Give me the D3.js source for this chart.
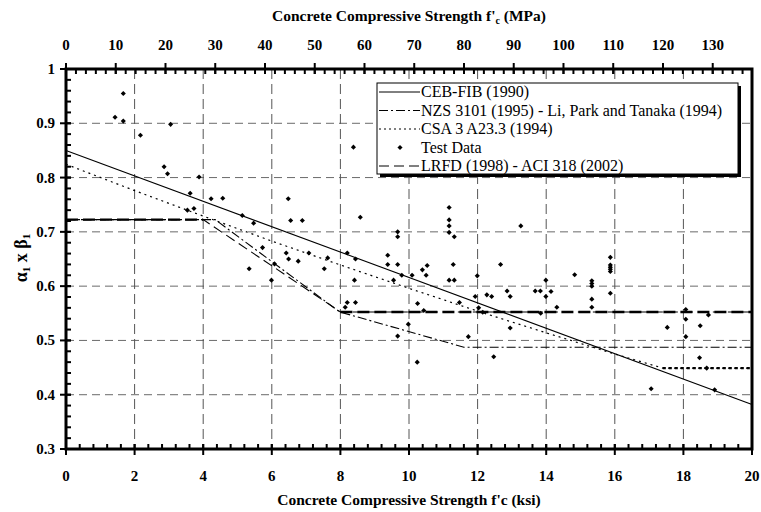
<!DOCTYPE html>
<html><head><meta charset="utf-8">
<script src="https://cdn.jsdelivr.net/npm/d3@7"></script>
<style>body{margin:0;background:#fff}svg{display:block}</style>
</head><body><svg id="c" width="761" height="512"></svg>
<script>
// ---- data ----
const xTicksKsi = [0,2,4,6,8,10,12,14,16,18,20];
const xTicksMPa = [0,10,20,30,40,50,60,70,80,90,100,110,120,130];
const yTicks = [0.3,0.4,0.5,0.6,0.7,0.8,0.9,1];
const yTickLabels = ["0.3","0.4","0.5","0.6","0.7","0.8","0.9","1"];

const cebX = [0, 20];
const cebY = [0.85, 0.382];
const nzsX = [0, 4.35, 7.98, 11.6, 20];
const nzsY = [0.7225, 0.7225, 0.5525, 0.4875, 0.4875];
const csaX = [0, 2, 4, 6, 8, 10, 12, 14, 16, 17.4, 20];
const csaY = [0.8245, 0.776, 0.729, 0.683, 0.639, 0.596, 0.554, 0.514, 0.475, 0.449, 0.449];
const lrfdX = [0, 4, 8, 20];
const lrfdY = [0.7225, 0.7225, 0.5525, 0.5525];

const testX = [1.67,1.43,1.67,3.05,2.17,2.86,2.96,3.88,3.62,4.23,4.57,3.54,3.73,5.14,5.47,
  6.48,6.55,6.89,8.58,5.73,5.34,6.42,6.49,6.77,7.08,7.63,7.53,6.08,5.99,8.20,8.44,8.41,8.20,8.44,8.14,
  8.38,9.67,9.67,9.38,9.38,9.67,9.55,9.79,10.09,10.25,10.43,9.98,9.67,10.24,10.39,10.53,10.50,
  11.17,11.17,11.17,11.17,11.32,11.29,11.17,11.32,11.47,11.73,11.99,11.93,12.03,12.15,12.27,12.41,12.47,
  12.67,12.95,12.86,12.95,13.26,13.68,13.83,13.84,13.99,13.99,14.14,14.31,14.83,15.33,15.33,15.33,15.33,15.33,
  15.87,15.87,15.87,15.87,15.87,15.87,18.07,18.07,18.07,18.73,18.49,17.53,18.47,18.68,17.06,18.91];
const testY = [0.955,0.911,0.904,0.898,0.878,0.820,0.807,0.801,0.771,0.761,0.762,0.740,0.743,0.730,0.716,
  0.761,0.721,0.721,0.727,0.671,0.632,0.661,0.650,0.646,0.661,0.652,0.632,0.641,0.611,0.661,0.650,0.611,0.570,0.570,0.561,
  0.856,0.700,0.691,0.657,0.640,0.640,0.611,0.620,0.620,0.568,0.555,0.530,0.508,0.460,0.630,0.638,0.620,
  0.745,0.722,0.711,0.699,0.691,0.640,0.611,0.611,0.570,0.507,0.619,0.581,0.560,0.552,0.584,0.581,0.470,
  0.640,0.523,0.591,0.581,0.711,0.591,0.591,0.550,0.611,0.581,0.590,0.561,0.621,0.610,0.605,0.600,0.576,0.561,
  0.653,0.639,0.635,0.631,0.627,0.587,0.557,0.539,0.507,0.547,0.527,0.524,0.468,0.449,0.411,0.409];

const legendLabels = ["CEB-FIB (1990)","NZS 3101 (1995) - Li, Park and Tanaka (1994)","CSA 3 A23.3 (1994)","Test Data","LRFD (1998) - ACI 318 (2002)"];

// ---- chart ----
const svg = d3.select("#c").style("font-family", '"Liberation Serif"');
const L = 66, R = 752, T = 69, B = 449;
const x = d3.scaleLinear().domain([0, 20]).range([L, R]);
const xM = d3.scaleLinear().domain([0, 20 * 6.894757]).range([L, R]);
const y = d3.scaleLinear().domain([0.3, 1]).range([B, T]);

// gridlines
const g = svg.append("g");
g.selectAll(".hg").data(yTicks.slice(1, -1)).join("line")
  .attr("x1", L).attr("x2", R).attr("y1", d => y(d)).attr("y2", d => y(d))
  .attr("stroke", "#6a6a6a").attr("stroke-width", 1).attr("stroke-dasharray", "8,5");
g.selectAll(".vg").data(xTicksKsi.slice(1, -1)).join("line")
  .attr("y1", T).attr("y2", B).attr("x1", d => x(d)).attr("x2", d => x(d))
  .attr("stroke", "#555").attr("stroke-width", 1).attr("stroke-dasharray", "10,5");

// series lines
const lineGen = d3.line().x(d => x(d[0])).y(d => y(d[1]));
const zip = (a, b) => a.map((v, i) => [v, b[i]]);
svg.append("path").attr("d", lineGen(zip(cebX, cebY))).attr("fill", "none").attr("stroke", "#000").attr("stroke-width", 1.1);
svg.append("path").attr("d", lineGen(zip(csaX, csaY))).attr("fill", "none").attr("stroke", "#000").attr("stroke-width", 1.2).attr("stroke-dasharray", "2,4");
svg.append("path").attr("d", lineGen(zip(nzsX, nzsY))).attr("fill", "none").attr("stroke", "#000").attr("stroke-width", 1.1).attr("stroke-dasharray", "9,3,2,3");
svg.append("path").attr("d", lineGen(zip(lrfdX, lrfdY))).attr("fill", "none").attr("stroke", "#000").attr("stroke-width", 1.1).attr("stroke-dasharray", "10,5");
const thick = (xs, ys, i, dash) => svg.append("path").attr("d", lineGen([[xs[i], ys[i]], [xs[i + 1], ys[i + 1]]]))
  .attr("fill", "none").attr("stroke", "#000").attr("stroke-width", 2.4).attr("stroke-dasharray", dash);
thick(lrfdX, lrfdY, 0, "12,5");
thick(lrfdX, lrfdY, 2, "12,5");
thick(csaX, csaY, 9, "3,3");

// test data (small square diamonds)
const marker = d3.symbol().type(d3.symbolSquare).size(13);
svg.append("g").selectAll("path").data(zip(testX, testY)).join("path")
  .attr("d", marker).attr("transform", d => `translate(${x(d[0])},${y(d[1])}) rotate(45)`).attr("fill", "#000");

// axes frame
svg.append("rect").attr("x", L).attr("y", T).attr("width", R - L).attr("height", B - T)
  .attr("fill", "none").attr("stroke", "#000").attr("stroke-width", 3);

// ticks
const ax = svg.append("g").attr("stroke", "#000").attr("stroke-width", 2);
const minorX = d3.range(0, 20.001, 0.4);
ax.selectAll(".mxb").data(minorX).join("line").attr("x1", d => x(d)).attr("x2", d => x(d)).attr("y1", B).attr("y2", B - 5);
ax.selectAll(".Mxb").data(xTicksKsi).join("line").attr("x1", d => x(d)).attr("x2", d => x(d)).attr("y1", B - 5).attr("y2", B + 6);
const minorM = d3.range(0, 137.9, 2);
ax.selectAll(".mxt").data(minorM).join("line").attr("x1", d => xM(d)).attr("x2", d => xM(d)).attr("y1", T).attr("y2", T + 5);
ax.selectAll(".Mxt").data(xTicksMPa).join("line").attr("x1", d => xM(d)).attr("x2", d => xM(d)).attr("y1", T - 6).attr("y2", T + 5);
const minorY = d3.range(0.3, 1.0001, 0.02);
ax.selectAll(".my").data(minorY).join("line").attr("y1", d => y(d)).attr("y2", d => y(d)).attr("x1", L).attr("x2", L + 5);
ax.selectAll(".My").data(yTicks).join("line").attr("y1", d => y(d)).attr("y2", d => y(d)).attr("x1", L - 6).attr("x2", L + 5);

// tick labels
const lab = svg.append("g").attr("font-weight", "bold").attr("font-size", 15).attr("fill", "#000");
lab.selectAll(".xb").data(xTicksKsi).join("text").attr("x", d => x(d)).attr("y", 481).attr("text-anchor", "middle").text(d => d);
lab.selectAll(".xt").data(xTicksMPa).join("text").attr("x", d => xM(d)).attr("y", 50).attr("text-anchor", "middle").text(d => d);
lab.selectAll(".yl").data(yTicks).join("text").attr("x", 55).attr("y", d => y(d) + 5).attr("text-anchor", "end").text((d, i) => yTickLabels[i]);

// axis titles
lab.append("text").attr("x", 409).attr("y", 505).attr("text-anchor", "middle").attr("font-size", 15.5).text("Concrete Compressive Strength f'c (ksi)");
const t2 = lab.append("text").attr("x", 409).attr("y", 21).attr("text-anchor", "middle").attr("font-size", 15.5);
t2.append("tspan").text("Concrete Compressive Strength f'");
t2.append("tspan").attr("font-size", 10).attr("dy", 3).text("c");
t2.append("tspan").attr("dy", -3).text(" (MPa)");
const t3 = lab.append("text").attr("transform", "translate(27,258) rotate(-90)").attr("text-anchor", "middle").attr("font-size", 18);
t3.append("tspan").text("α");
t3.append("tspan").attr("font-size", 11).attr("dy", 3).text("1");
t3.append("tspan").attr("dy", -3).text(" x β");
t3.append("tspan").attr("font-size", 11).attr("dy", 3).text("1");

// legend
const lg = svg.append("g");
lg.append("rect").attr("x", 380).attr("y", 86).attr("width", 361).attr("height", 91).attr("fill", "#000");
lg.append("rect").attr("x", 377).attr("y", 83).attr("width", 361).attr("height", 91).attr("fill", "#fff").attr("stroke", "#000").attr("stroke-width", 1);
const rows = [97, 115.5, 134, 152.5, 171];
const styles = [{dash: null}, {dash: "9,3,2,3"}, {dash: "2,3"}, {dash: "marker"}, {dash: "10,5"}];
styles.forEach((s, i) => {
  const cy = rows[i] - 5;
  if (s.dash === "marker") {
    lg.append("path").attr("d", marker).attr("transform", `translate(400,${cy}) rotate(45)`).attr("fill", "#000");
  } else {
    const ln = lg.append("line").attr("x1", 379).attr("x2", 420).attr("y1", cy).attr("y2", cy).attr("stroke", "#000").attr("stroke-width", 1);
    if (s.dash) ln.attr("stroke-dasharray", s.dash);
  }
  lg.append("text").attr("x", 421).attr("y", rows[i]).attr("font-size", 16).attr("fill", "#000").text(legendLabels[i]);
});
</script>
</body></html>
